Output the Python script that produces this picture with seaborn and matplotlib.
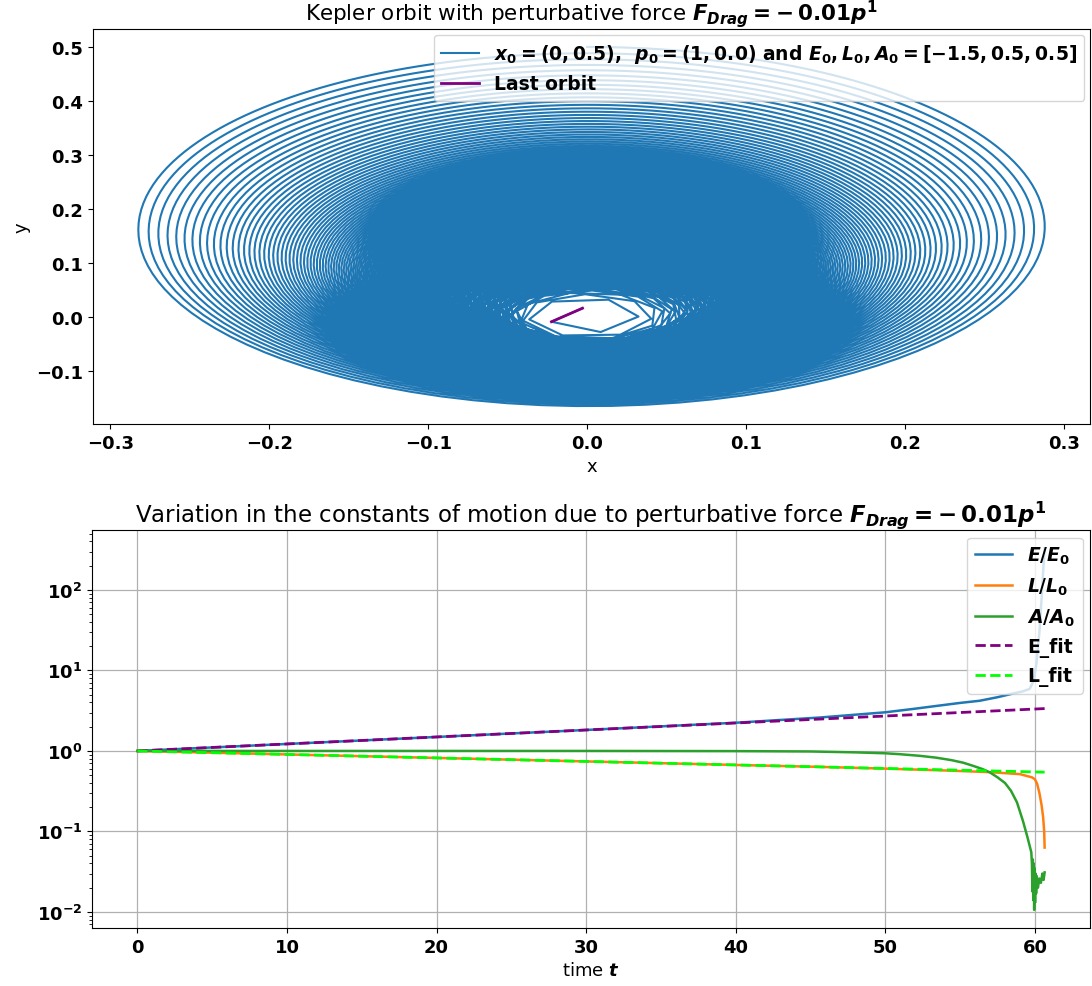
import numpy as np
import pandas as pd
import matplotlib
matplotlib.use("Agg")
import matplotlib.pyplot as plt
import seaborn as sns

# ---------------- parameters shown in the chart ----------------
x0 = [0.0, 0.5]          # initial position
p0 = [1.0, 0.0]          # initial momentum
drag_coeff = 0.01        # F_Drag = -0.01 p
step = 0.0073            # integration step of the orbit
collapse_ratio = 331.0   # largest E/E0 reached (orbit collapsed)

# ---------------- bottom panel values ----------------
t_E = [0, 10, 20, 30, 40, 45.6, 50, 52, 53.4, 55, 56.3, 57.5, 58.6, 59.2,
       59.65, 59.9, 60.1, 60.3, 60.45, 60.55, 60.65]
E_ratio = [1.0, 1.221, 1.492, 1.822, 2.24, 2.6, 3.02, 3.35, 3.62, 3.95, 4.2,
           4.65, 5.2, 5.5, 5.9, 7.3, 12.0, 30.0, 80.0, 170.0, 331.0]

t_L = [0, 10, 20, 30, 40, 45.6, 50, 54, 57, 59, 59.8, 60.0, 60.15, 60.3,
       60.45, 60.55, 60.62, 60.65]
L_ratio = [1.0, 0.905, 0.819, 0.741, 0.670, 0.634, 0.603, 0.572, 0.545,
           0.515, 0.47, 0.445, 0.39, 0.30, 0.21, 0.15, 0.10, 0.063]

t_A = [0, 10, 20, 30, 40, 45, 48, 50, 51, 52.3, 53.4, 54.4, 55.2, 55.9,
       56.5, 57, 57.5, 58, 58.4, 58.8, 59.2, 59.5, 59.76, 59.8, 59.83, 59.86,
       59.89, 59.92, 59.95, 59.98, 60.01, 60.04, 60.08, 60.12, 60.2, 60.3,
       60.4, 60.5, 60.58, 60.65]
A_ratio = [1.0, 1.0, 1.0, 1.0, 0.995, 0.985, 0.96, 0.935, 0.91, 0.87, 0.825,
           0.77, 0.715, 0.65, 0.595, 0.54, 0.47, 0.40, 0.32, 0.23, 0.135,
           0.085, 0.055, 0.04, 0.018, 0.045, 0.014, 0.04, 0.0106, 0.035,
           0.013, 0.03, 0.017, 0.028, 0.02, 0.026, 0.023, 0.03, 0.025, 0.031]

t_fit = [0, 60.65]
E_fit = [1.0, 3.36]
L_fit = [1.0, 0.545]


# ---------------- orbit integration (RK4) ----------------
def orbit():
    g = drag_coeff
    x, y = x0
    px, py = p0

    def f(x, y, px, py):
        r3 = (x * x + y * y) ** 1.5
        return px, py, -x / r3 - g * px, -y / r3 - g * py

    E0 = 0.5 * (px * px + py * py) - 1 / np.hypot(x, y)
    xs, ys = [x], [y]
    t, dt = 0.0, step
    while t < t_E[-1] + 1.0:
        k1 = f(x, y, px, py)
        k2 = f(x + 0.5 * dt * k1[0], y + 0.5 * dt * k1[1], px + 0.5 * dt * k1[2], py + 0.5 * dt * k1[3])
        k3 = f(x + 0.5 * dt * k2[0], y + 0.5 * dt * k2[1], px + 0.5 * dt * k2[2], py + 0.5 * dt * k2[3])
        k4 = f(x + dt * k3[0], y + dt * k3[1], px + dt * k3[2], py + dt * k3[3])
        nx = x + dt / 6 * (k1[0] + 2 * k2[0] + 2 * k3[0] + k4[0])
        ny = y + dt / 6 * (k1[1] + 2 * k2[1] + 2 * k3[1] + k4[1])
        npx = px + dt / 6 * (k1[2] + 2 * k2[2] + 2 * k3[2] + k4[2])
        npy = py + dt / 6 * (k1[3] + 2 * k2[3] + 2 * k3[3] + k4[3])
        E = 0.5 * (npx * npx + npy * npy) - 1 / (nx * nx + ny * ny) ** 0.5
        if E >= 0 or not np.isfinite(E):
            break
        x, y, px, py = nx, ny, npx, npy
        t += dt
        xs.append(x)
        ys.append(y)
        if E / E0 > collapse_ratio:
            break
    return np.array(xs), np.array(ys)


ox, oy = orbit()
orbit_df = pd.DataFrame({"x": ox, "y": oy})
last_df = orbit_df.iloc[-2:]

# ---------------- style ----------------
plt.rcParams["mathtext.fontset"] = "custom"
plt.rcParams["mathtext.rm"] = "DejaVu Sans:bold"
plt.rcParams["mathtext.it"] = "DejaVu Sans:italic:bold"
plt.rcParams["mathtext.bf"] = "DejaVu Sans:bold"
plt.rcParams["font.family"] = ["DejaVu Sans"]
plt.rcParams["font.size"] = 13

fig = plt.figure(figsize=(10.92, 9.87), dpi=100)
ax1 = fig.add_axes([93 / 1092, 1 - 425 / 987, 997 / 1092, 395 / 987])
ax2 = fig.add_axes([92 / 1092, 1 - 929 / 987, 998 / 1092, 398 / 987])

# ---------------- top panel ----------------
lab = (r"$x_0 = (0, 0.5)$,  $p_0 = (1, 0.0)$ and "
       r"$E_0, L_0, A_0 = [-1.5, 0.5, 0.5]$")
sns.lineplot(data=orbit_df, x="x", y="y", sort=False, estimator=None,
             color="C0", lw=1.5, ax=ax1, label=lab)
sns.lineplot(data=last_df, x="x", y="y", sort=False, estimator=None,
             color="purple", lw=2, ax=ax1, label="Last orbit")
ax1.set_title(r"Kepler orbit with perturbative force $F_{Drag} = -\,0.01p^1$",
              fontsize=15.5, pad=2)
ax1.set_xlabel("x", fontsize=13)
ax1.set_ylabel("y", fontsize=13)
ax1.set_xticks([-0.3, -0.2, -0.1, 0.0, 0.1, 0.2, 0.3])
ax1.legend(loc="upper right", prop={"weight": "bold", "size": 13.5},
           borderaxespad=0.3)

# ---------------- bottom panel ----------------
sns.lineplot(x=t_E, y=E_ratio, ax=ax2, color="C0", lw=1.8, label=r"$E/E_0$")
sns.lineplot(x=t_L, y=L_ratio, ax=ax2, color="C1", lw=1.8, label=r"$L/L_0$")
sns.lineplot(x=t_A, y=A_ratio, ax=ax2, color="C2", lw=1.8, label=r"$A/A_0$",
             sort=False, estimator=None)
sns.lineplot(x=t_fit, y=E_fit, ax=ax2, color="purple", lw=2, linestyle="--",
             label="E_fit")
sns.lineplot(x=t_fit, y=L_fit, ax=ax2, color="lime", lw=2, linestyle="--",
             label="L_fit")
ax2.set_yscale("log")
ax2.set_title("Variation in the constants of motion due to perturbative force "
              r"$F_{Drag} = -\,0.01p^1$", fontsize=16.5, pad=5)
ax2.set_xlabel(r"time $t$", fontsize=13)
ax2.set_ylabel("")
ax2.set_xticks([0, 10, 20, 30, 40, 50, 60])
ax2.grid(True, color="#b0b0b0", lw=0.9)
ax2.legend(loc="upper right", prop={"weight": "bold", "size": 13.5},
           borderaxespad=0.4)

for ax in (ax1, ax2):
    for lbl in ax.get_xticklabels() + ax.get_yticklabels():
        lbl.set_fontweight("bold")
        lbl.set_fontsize(13)

fig.savefig("out.png", dpi=100)
